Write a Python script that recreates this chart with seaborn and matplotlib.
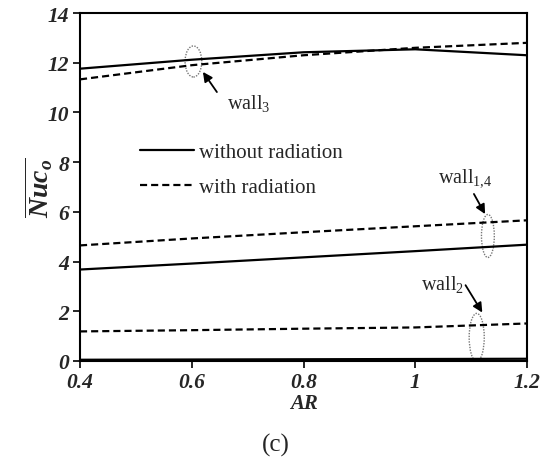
import matplotlib
matplotlib.use("Agg")
import matplotlib.pyplot as plt
import seaborn as sns
import pandas as pd
from matplotlib.patches import Ellipse
from matplotlib.lines import Line2D

AR = [0.4, 0.6, 0.8, 1.0, 1.2]
wall3_without = [11.76, 12.12, 12.42, 12.54, 12.3]
wall3_with = [11.33, 11.9, 12.3, 12.6, 12.8]
wall14_without = [3.68, 3.92, 4.17, 4.42, 4.68]
wall14_with = [4.65, 4.93, 5.18, 5.42, 5.66]
wall2_without = [0.05, 0.06, 0.07, 0.08, 0.09]
wall2_with = [1.19, 1.24, 1.30, 1.35, 1.51]

series = {
    ("wall3", "without radiation"): wall3_without,
    ("wall3", "with radiation"): wall3_with,
    ("wall14", "without radiation"): wall14_without,
    ("wall14", "with radiation"): wall14_with,
    ("wall2", "without radiation"): wall2_without,
    ("wall2", "with radiation"): wall2_with,
}
rows = []
for (wall, case), vals in series.items():
    for a, v in zip(AR, vals):
        rows.append({"AR": a, "Nu": v, "wall": wall, "case": case})
df = pd.DataFrame(rows)

sns.set_style("white")
plt.rcParams['font.family'] = ['Liberation Serif', 'DejaVu Serif']
plt.rcParams['mathtext.fontset'] = 'custom'
plt.rcParams['mathtext.rm'] = 'Liberation Serif'
plt.rcParams['mathtext.it'] = 'Liberation Serif:italic:bold'
plt.rcParams['mathtext.bf'] = 'Liberation Serif:bold'

DASH = (3.2, 1.8)

fig = plt.figure(figsize=(5.49, 4.64), dpi=100)
ax = fig.add_axes([80 / 549, 102 / 464, 447 / 549, 348 / 464])

for wall in ["wall3", "wall14", "wall2"]:
    sub = df[df["wall"] == wall]
    sns.lineplot(data=sub, x="AR", y="Nu", style="case",
                 style_order=["without radiation", "with radiation"],
                 dashes={"without radiation": "", "with radiation": DASH},
                 color="black", linewidth=1.6, ax=ax, legend=False,
                 estimator=None, sort=True)

ax.set_xlim(0.4, 1.2)
ax.set_ylim(0, 14)
ax.set_xticks([0.4, 0.6, 0.8, 1.0, 1.2])
ax.set_xticklabels(["0.4", "0.6", "0.8", "1", "1.2"])
ax.set_yticks(range(0, 15, 2))
for lab in ax.get_xticklabels() + ax.get_yticklabels():
    lab.set_fontweight("bold")
    lab.set_fontstyle("italic")
    lab.set_fontsize(15.5)
ax.tick_params(axis="both", direction="out", length=5, width=1.2, color="black",
               bottom=True, left=True, pad=3)
for s in ax.spines.values():
    s.set_color("black")
    s.set_linewidth(1.5)

ax.set_xlabel("AR", fontsize=15, fontweight="bold", fontstyle="italic", labelpad=1)
ax.set_ylabel(r"$\overline{Nuc_o}$", fontsize=20, labelpad=-6)

# legend
handles = [Line2D([], [], color="black", lw=1.6),
           Line2D([], [], color="black", lw=1.6, dashes=DASH)]
ax.legend(handles, ["without radiation", "with radiation"],
          loc="center left", bbox_to_anchor=(0.134, 0.549), frameon=False,
          fontsize=15, handlelength=2.6, labelspacing=0.75, handletextpad=0.25,
          borderpad=0, borderaxespad=0)

# ellipses
for (cx, cy, w, h) in [(0.603, 12.05, 0.030, 1.25),
                       (1.130, 5.03, 0.023, 1.73),
                       (1.110, 0.95, 0.027, 1.93)]:
    ax.add_patch(Ellipse((cx, cy), w, h, fill=False, edgecolor="#777777",
                         lw=1.0, linestyle=(0, (1, 1))))

arrowprops = dict(arrowstyle="-|>", color="black", lw=1.3, mutation_scale=14,
                  shrinkA=0, shrinkB=0)
ax.annotate("", xy=(0.62, 11.63), xytext=(0.645, 10.82), arrowprops=arrowprops)
ax.annotate("", xy=(1.125, 5.91), xytext=(1.105, 6.72), arrowprops=arrowprops)
ax.annotate("", xy=(1.12, 1.95), xytext=(1.09, 3.05), arrowprops=arrowprops)

ax.text(0.663, 10.38, r"wall$_3$", fontsize=14.5, ha="left", va="center")
ax.text(1.041, 7.4, r"wall$_{1,\!4}$", fontsize=14.5, ha="left", va="center")
ax.text(1.01, 3.1, r"wall$_2$", fontsize=14.5, ha="left", va="center")

fig.text(276 / 549, 1 - 445 / 464, "(c)", fontsize=18, ha="center", va="center")

fig.savefig("out.png", dpi=100)
